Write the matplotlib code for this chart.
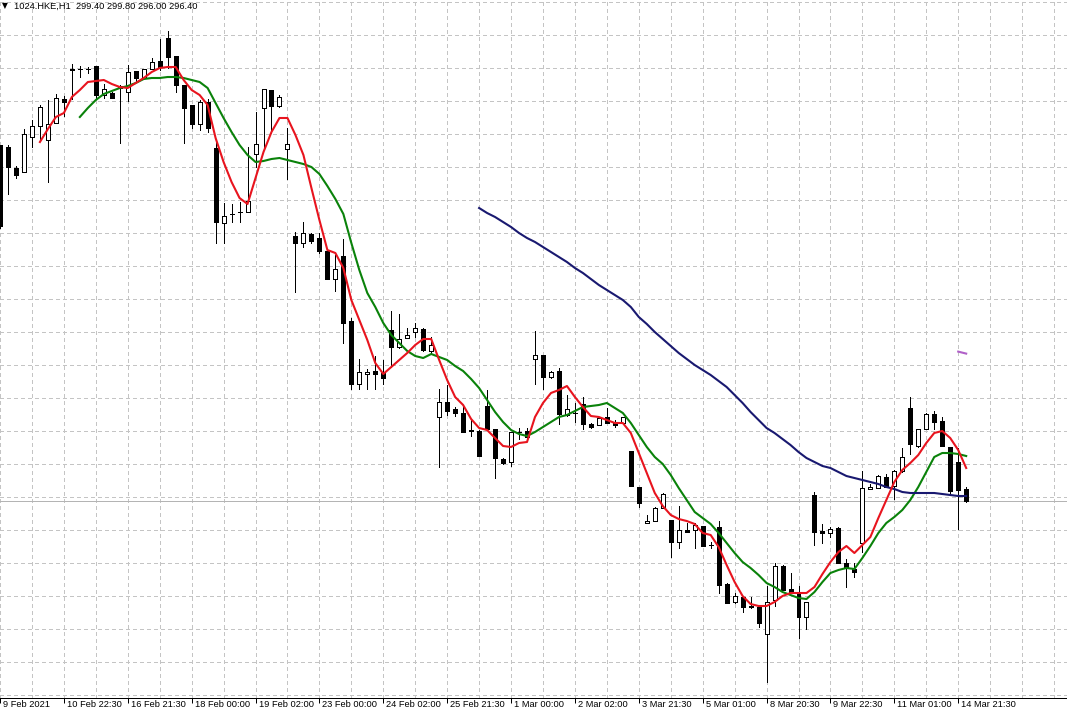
import numpy as np
import matplotlib.pyplot as plt
from matplotlib.patches import Rectangle
from matplotlib import transforms

symbol = "1024.HKE,H1"

# hourly candles, bar 0 = left edge of the chart
opens = [385.35, 384.85, 379.6, 378.6, 387.35, 390.1, 386.6, 390.85, 396.85, 404.35,
         404.35, 404.4, 405.1, 397.85, 398.35, 399.6, 398.6, 403.85, 402.1, 404.35,
         406.35, 412.1, 407.6, 400.35, 395.35, 390.6, 396.1, 384.6, 365.85, 368.1,
         368.6, 368.6, 383.1, 394.6, 399.1, 395.1, 384.35, 362.6, 360.85, 363.1,
         362.1, 358.85, 351.85, 357.6, 341.35, 325.6, 328.1, 328.85, 328.35, 339.1,
         334.85, 337.1, 338.6, 339.35, 333.85, 317.35, 321.1, 319.35, 318.35, 314.1,
         313.85, 320.1, 314.35, 306.85, 306.1, 313.6, 313.85, 331.85, 332.85, 327.35,
         328.85, 317.85, 318.35, 320.6, 315.6, 315.35, 317.35, 315.85, 315.85, 308.85,
         299.85, 290.85, 291.35, 294.6, 291.6, 286.1, 289.1, 289.1, 290.1, 285.35,
         289.85, 275.6, 271.1, 272.35, 270.1, 269.85, 263.1, 271.6, 280.1, 274.35,
         273.35, 267.35, 297.85, 288.85, 288.35, 289.6, 280.85, 279.35, 285.85, 299.35,
         299.6, 302.35, 300.1, 303.85, 319.6, 310.1, 314.35, 318.1, 316.35, 309.85,
         306.1, 299.4]
highs = [385.35, 385.35, 380.1, 389.35, 391.6, 395.35, 396.6, 398.1, 397.6, 405.6,
         405.1, 404.85, 405.1, 400.6, 398.6, 400.35, 405.35, 403.85, 404.35, 407.1,
         411.85, 413.85, 407.6, 400.35, 395.35, 396.6, 396.85, 386.1, 370.85, 370.6,
         371.1, 384.85, 393.6, 399.35, 399.1, 397.85, 389.6, 363.6, 366.1, 363.35,
         363.35, 359.6, 357.85, 361.85, 342.1, 331.85, 329.35, 332.6, 331.6, 343.85,
         343.1, 339.6, 340.85, 339.6, 337.35, 324.35, 325.35, 319.85, 320.35, 316.6,
         314.1, 324.1, 314.35, 307.1, 313.6, 314.6, 314.6, 338.85, 332.85, 328.85,
         329.6, 322.85, 320.85, 322.35, 315.85, 317.35, 319.6, 316.6, 317.35, 308.85,
         299.85, 292.85, 294.85, 298.35, 291.6, 295.1, 290.85, 290.85, 290.1, 286.1,
         291.35, 275.85, 273.35, 272.35, 272.35, 269.85, 275.1, 280.85, 280.35, 278.35,
         275.1, 271.1, 298.6, 290.6, 289.85, 289.85, 281.85, 280.85, 303.85, 300.6,
         302.85, 303.1, 304.1, 309.6, 322.35, 314.35, 318.35, 318.85, 317.35, 309.85,
         309.6, 299.8]
lows = [364.6, 373.1, 377.1, 378.6, 384.85, 386.6, 376.1, 390.85, 392.6, 396.85,
        402.35, 403.35, 397.1, 397.1, 397.1, 385.85, 396.35, 401.1, 402.1, 404.35,
        404.1, 404.6, 398.6, 385.85, 389.6, 389.1, 388.6, 360.85, 360.85, 366.1,
        366.1, 368.6, 379.85, 384.35, 388.35, 394.85, 376.85, 348.6, 359.85, 360.85,
        358.35, 351.85, 348.85, 335.85, 324.35, 324.35, 324.35, 324.35, 325.6, 329.85,
        334.6, 337.1, 337.35, 333.85, 333.1, 304.85, 317.85, 317.6, 313.6, 312.6,
        307.6, 314.35, 302.1, 305.6, 305.1, 311.85, 312.1, 325.6, 324.35, 327.1,
        315.6, 317.6, 316.1, 314.35, 314.6, 315.35, 315.85, 314.85, 315.85, 300.1,
        294.85, 290.85, 291.35, 294.6, 282.35, 284.6, 288.6, 284.6, 285.1, 284.6,
        273.35, 270.85, 270.85, 268.6, 269.6, 264.85, 251.1, 270.1, 274.1, 273.6,
        262.1, 264.35, 285.35, 285.85, 287.35, 280.85, 274.85, 277.35, 283.6, 299.35,
        299.6, 299.85, 296.85, 303.6, 308.1, 309.85, 314.35, 314.35, 310.1, 298.1,
        289.35, 296.0]
closes = [365.1, 379.85, 377.85, 388.1, 390.1, 394.85, 390.6, 397.1, 396.1, 404.1,
          404.35, 404.4, 397.85, 399.35, 397.1, 400.1, 403.6, 402.1, 404.35, 406.1,
          404.85, 407.35, 400.35, 394.6, 390.6, 396.1, 389.6, 366.1, 367.6, 368.1,
          368.6, 371.35, 385.6, 399.35, 395.1, 397.35, 385.6, 360.85, 363.35, 361.35,
          358.85, 351.85, 354.35, 340.85, 325.6, 328.6, 328.6, 328.1, 327.1, 334.85,
          336.85, 337.85, 339.6, 334.1, 335.35, 321.1, 318.85, 318.35, 313.6, 313.85,
          307.6, 314.35, 307.1, 305.85, 313.6, 313.6, 312.35, 332.85, 327.35, 328.6,
          318.1, 319.35, 318.35, 315.6, 314.85, 317.1, 315.85, 315.35, 317.35, 300.1,
          295.85, 291.35, 294.6, 298.1, 286.1, 289.1, 288.6, 290.35, 285.1, 285.35,
          275.35, 270.85, 272.6, 269.85, 269.85, 265.85, 271.1, 280.1, 274.1, 273.6,
          267.35, 271.1, 288.6, 288.35, 289.35, 280.85, 279.6, 278.6, 299.6, 299.85,
          302.6, 299.85, 303.85, 307.35, 310.6, 314.35, 318.1, 316.1, 310.1, 298.85,
          299.1, 296.4]

# moving averages (first bar index, values)
ma_fast_start = 5
ma_fast = [386.1, 389.35, 392.35, 393.35, 397.35, 399.1, 401.1, 401.35, 401.6, 400.6,
           399.85, 399.6, 400.85, 402.1, 403.6, 404.6, 404.85, 404.85, 401.6, 399.1,
           397.85, 395.35, 387.1, 381.1, 376.1, 372.1, 370.6, 377.1, 383.6, 388.6,
           392.1, 392.1, 387.85, 382.85, 374.6, 366.6, 359.1, 358.35, 354.6, 346.6,
           341.6, 336.6, 330.85, 328.1, 329.85, 331.6, 333.35, 335.35, 336.85, 336.85,
           331.6, 326.6, 322.35, 320.35, 316.85, 314.6, 314.1, 312.1, 310.1, 309.85,
           310.85, 311.1, 317.35, 320.85, 323.35, 324.1, 325.1, 322.35, 319.85, 317.6,
           317.35, 316.6, 315.85, 315.85, 313.35, 308.35, 303.35, 298.35, 295.1, 292.85,
           291.85, 291.35, 290.6, 288.35, 287.85, 284.85, 280.35, 276.1, 272.6, 270.6,
           270.1, 270.1, 271.1, 272.6, 273.35, 273.35, 273.35, 274.85, 278.1, 281.1,
           283.6, 285.1, 283.35, 285.35, 287.35, 292.1, 296.6, 301.1, 304.1, 305.85,
           307.85, 310.85, 313.35, 313.85, 312.1, 309.1, 304.6]
ma_mid_start = 10
ma_mid = [392.35, 394.6, 396.6, 398.1, 398.85, 399.6, 400.1, 400.85, 401.85, 402.1,
          402.1, 402.35, 402.35, 402.1, 401.6, 401.1, 399.6, 395.85, 392.1, 388.6,
          385.35, 382.85, 381.1, 381.35, 381.85, 382.1, 381.6, 381.1, 380.6, 379.85,
          378.1, 375.1, 371.85, 368.1, 360.85, 354.1, 348.35, 344.85, 340.85, 337.85,
          335.85, 333.85, 332.6, 332.1, 333.1, 332.35, 331.6, 330.1, 328.85, 326.85,
          324.6, 321.6, 318.6, 316.1, 314.1, 313.1, 312.6, 313.6, 314.85, 316.1,
          317.35, 317.85, 318.85, 319.85, 320.1, 320.35, 320.85, 319.6, 318.35, 315.85,
          312.85, 309.85, 307.35, 305.6, 302.85, 299.6, 296.6, 293.6, 292.1, 290.6,
          288.35, 285.85, 283.35, 281.1, 279.6, 277.85, 275.85, 274.85, 273.6, 272.85,
          272.1, 271.85, 273.6, 276.1, 278.35, 279.1, 279.6, 279.35, 282.1, 285.1,
          288.35, 290.85, 292.35, 294.1, 296.6, 299.85, 303.6, 307.35, 308.35, 308.35,
          308.1, 307.6]
ma_slow_start = 60
ma_slow = [369.6, 368.35, 367.35, 366.1, 364.85, 363.35, 362.1, 361.1, 359.85, 358.6,
           357.35, 356.1, 354.6, 353.35, 351.85, 350.35, 349.1, 347.85, 346.6, 344.85,
           342.35, 340.6, 338.6, 336.85, 335.1, 333.35, 331.85, 330.35, 329.1, 327.85,
           326.35, 324.85, 322.85, 320.85, 318.6, 316.6, 314.6, 313.35, 311.85, 310.35,
           308.6, 307.1, 306.1, 305.1, 304.6, 303.6, 302.6, 302.1, 301.6, 301.1,
           300.6, 299.85, 299.35, 298.6, 298.35, 298.35, 298.35, 298.35, 298.1, 297.85,
           297.6, 297.6]
mark_start = 120
mark = [333.7, 333.2]

tick_bars = [0, 8, 16, 24, 32, 40, 48, 56, 64, 72, 80, 88, 96, 104, 112, 120]
tick_labels = ["9 Feb 2021", "10 Feb 22:30", "16 Feb 21:30", "18 Feb 00:00",
               "19 Feb 02:00", "23 Feb 00:00", "24 Feb 02:00", "25 Feb 21:30",
               "1 Mar 00:00", "2 Mar 02:00", "3 Mar 21:30", "5 Mar 01:00",
               "8 Mar 20:30", "9 Mar 22:30", "11 Mar 01:00", "14 Mar 21:30"]

FONT = ["Liberation Sans", "DejaVu Sans"]
px = 0.72  # one pixel in points at dpi 100

fig = plt.figure(figsize=(10.67, 7.11), dpi=100)
ax = fig.add_axes([0, 13 / 711, 1, 698 / 711])
ax.set_xlim(0.25, 133.625)
ax.set_ylim(247.1, 421.6)

# dotted MT4 style grid
for gx in range(0, 134, 4):
    ax.axvline(gx, color="#c4c4c4", lw=px, ls=(0, (3, 3)), zorder=0, antialiased=False)
for k in range(22):
    ax.axhline(421.025 - 8.245 * k, color="#c4c4c4", lw=px, ls=(0, (3, 3)),
               zorder=0, antialiased=False)

# bid line
ax.axhline(closes[-1], color="#b4b4b4", lw=px, zorder=1, antialiased=False)

bw = 0.5
for i, (o, h, l, c) in enumerate(zip(opens, highs, lows, closes)):
    ax.vlines(i, l, h, color="black", lw=px, zorder=2, antialiased=False)
    face = "black" if c < o else "white"
    ax.add_patch(Rectangle((i - bw / 2, min(o, c)), bw, abs(c - o),
                           facecolor=face, edgecolor="black", lw=px, zorder=3,
                           antialiased=False))

ax.plot(np.arange(ma_fast_start, ma_fast_start + len(ma_fast)), ma_fast,
        color="#e8141e", lw=1.5, zorder=5)
ax.plot(np.arange(ma_mid_start, ma_mid_start + len(ma_mid)), ma_mid,
        color="#0a820a", lw=1.5, zorder=4)
ax.plot(np.arange(ma_slow_start, ma_slow_start + len(ma_slow)), ma_slow,
        color="#191970", lw=1.5, zorder=4)
ax.plot(np.arange(mark_start, mark_start + len(mark)), mark,
        color="#b060c8", lw=1.5, zorder=4)

for s in ["top", "right", "left"]:
    ax.spines[s].set_visible(False)
ax.spines["bottom"].set_linewidth(px)
ax.spines["bottom"].set_color("black")
ax.set_yticks([])
ax.set_xticks(tick_bars)
ax.set_xticklabels([])
ax.tick_params(axis="x", length=3.5, width=px, color="black", direction="out")

lab_tr = transforms.offset_copy(ax.get_xaxis_transform(), fig=fig, x=3, y=-2, units="dots")
for b, t in zip(tick_bars, tick_labels):
    ax.text(b, 0, t, transform=lab_tr, ha="left", va="top", fontsize=6.7,
            family=FONT, color="black", clip_on=False)

header = "%s  %.2f %.2f %.2f %.2f" % (symbol, opens[-1], highs[-1], lows[-1], closes[-1])
fig.text(2 / 1067, 1 - 6 / 711, "\u25bc", fontsize=5.5, family=["DejaVu Sans"],
         va="center", ha="left", color="black")
fig.text(14 / 1067, 1 - 6 / 711, header, fontsize=6.7, family=FONT,
         va="center", ha="left", color="black")

fig.savefig("out.png", dpi=100, facecolor="white")
